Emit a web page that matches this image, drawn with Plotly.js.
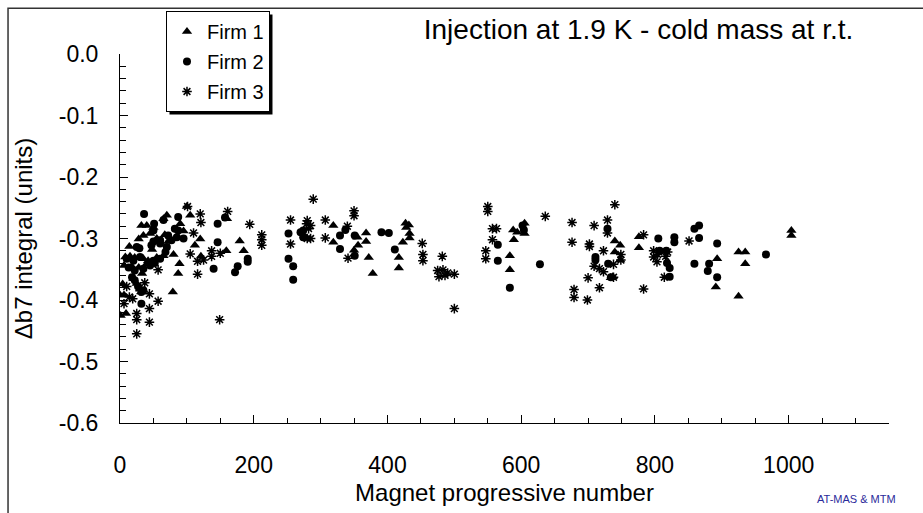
<!DOCTYPE html>
<html>
<head>
<meta charset="utf-8">
<script src="https://cdn.plot.ly/plotly-3.0.1.min.js"></script>
<style>html,body{margin:0;padding:0;background:#fff;}#chart{width:923px;height:513px;}</style>
</head>
<body>
<div id="chart"></div>
<script>
// Firm 1 (triangles)
const firm1X = [32,40,14,6,4,0,6,1,9,67,80,89,87,79,100,90,65,120,112,121,160,159,179,185,
  8,15,22,35,42,55,65,18,28,40,33,20,25,28,35,45,50,55,48,72,95,105,70,
  319,319,355,356,350,368,368,372,378,417,417,423,427,432,428,433,433,583,583,588,589,594,605,605,
  740,748,740,748,734,737,776,776,893,891,925,935,935,925,1004,1004];
const firm1Y = [-0.279,-0.279,-0.313,-0.344,-0.374,-0.392,-0.392,-0.425,-0.422,-0.294,-0.326,-0.341,-0.357,-0.387,-0.248,-0.276,-0.268,-0.301,-0.311,-0.329,-0.268,-0.320,-0.304,-0.320,
  -0.330,-0.329,-0.331,-0.333,-0.336,-0.331,-0.328,-0.346,-0.347,-0.341,-0.357,-0.365,-0.373,-0.301,-0.295,-0.292,-0.282,-0.300,-0.318,-0.305,-0.288,-0.262,-0.262,
  -0.279,-0.306,-0.298,-0.311,-0.319,-0.291,-0.305,-0.331,-0.357,-0.331,-0.348,-0.306,-0.275,-0.278,-0.282,-0.292,-0.299,-0.328,-0.351,-0.286,-0.302,-0.290,-0.275,-0.292,
  -0.304,-0.311,-0.322,-0.335,-0.364,-0.362,-0.297,-0.315,-0.333,-0.379,-0.322,-0.322,-0.341,-0.394,-0.287,-0.295];

// Firm 2 (circles)
const firm2X = [36,51,50,65,82,87,32,32,146,146,140,157,172,176,191,191,252,259,259,252,270,275,
  25,29,47,60,50,10,20,30,50,60,68,13,22,35,45,52,18,22,27,35,60,72,70,85,95,77,87,
  274,274,329,329,337,351,351,391,402,411,565,565,583,602,604,628,
  729,711,711,730,734,805,807,817,818,822,822,829,829,859,866,866,859,881,879,893,893,966];
const firm2Y = [-0.260,-0.276,-0.287,-0.270,-0.284,-0.265,-0.387,-0.406,-0.276,-0.306,-0.349,-0.266,-0.355,-0.345,-0.333,-0.338,-0.333,-0.345,-0.367,-0.292,-0.290,-0.298,
  -0.314,-0.316,-0.311,-0.308,-0.305,-0.333,-0.336,-0.330,-0.336,-0.333,-0.322,-0.347,-0.352,-0.349,-0.344,-0.340,-0.363,-0.368,-0.378,-0.384,-0.303,-0.295,-0.314,-0.298,-0.300,-0.303,-0.287,
  -0.287,-0.298,-0.295,-0.317,-0.286,-0.295,-0.328,-0.290,-0.291,-0.318,-0.310,-0.336,-0.380,-0.279,-0.286,-0.342,
  -0.284,-0.330,-0.335,-0.341,-0.363,-0.300,-0.320,-0.320,-0.340,-0.348,-0.362,-0.298,-0.306,-0.284,-0.279,-0.299,-0.341,-0.341,-0.353,-0.308,-0.363,-0.326];

// Firm 3 (asterisks)
const firm3X = [101,120,121,161,194,212,212,212,255,255,279,116,149,25,25,25,44,44,57,44,19,6,137,137,150,105,125,57,110,116,14,30,37,10,
  289,280,285,282,280,285,307,307,340,350,350,341,452,453,453,482,475,477,483,486,490,500,500,550,550,557,563,557,547,547,636,
  676,676,740,709,729,729,702,702,723,709,717,723,700,717,679,679,699,738,749,749,738,783,783,798,798,804,803,819,816,814,851];
const firm3Y = [-0.248,-0.260,-0.274,-0.256,-0.277,-0.294,-0.302,-0.311,-0.270,-0.309,-0.276,-0.358,-0.432,-0.455,-0.432,-0.422,-0.436,-0.414,-0.402,-0.390,-0.398,-0.406,-0.320,-0.329,-0.324,-0.325,-0.335,-0.351,-0.291,-0.337,-0.395,-0.385,-0.372,-0.378,
  -0.236,-0.271,-0.279,-0.284,-0.300,-0.300,-0.270,-0.299,-0.280,-0.255,-0.263,-0.332,-0.308,-0.326,-0.336,-0.329,-0.352,-0.362,-0.351,-0.360,-0.356,-0.358,-0.414,-0.248,-0.256,-0.284,-0.284,-0.302,-0.320,-0.333,-0.264,
  -0.274,-0.306,-0.245,-0.279,-0.270,-0.291,-0.309,-0.313,-0.320,-0.345,-0.349,-0.354,-0.364,-0.380,-0.383,-0.396,-0.400,-0.342,-0.326,-0.335,-0.363,-0.294,-0.382,-0.320,-0.330,-0.326,-0.338,-0.322,-0.329,-0.363,-0.304];

const seriesNames = ['Firm 1','Firm 2','Firm 3'];
const yTickVals = [0,-0.1,-0.2,-0.3,-0.4,-0.5,-0.6];
const yTickText = ['0.0','-0.1','-0.2','-0.3','-0.4','-0.5','-0.6'];
const xTickVals = [0,200,400,600,800,1000];
const xTickText = ['0','200','400','600','800','1000'];

const FONT = 'Liberation Sans, Arial, Helvetica, sans-serif';

const traces = [
  {x: firm1X, y: firm1Y, name: seriesNames[0], legendgroup: 'g1', type: 'scatter', mode: 'markers',
   marker: {symbol: 'triangle-up', size: 9, color: '#000'}},
  {x: firm2X, y: firm2Y, name: seriesNames[1], legendgroup: 'g2', type: 'scatter', mode: 'markers',
   marker: {symbol: 'circle', size: 8, color: '#000'}},
  {x: firm3X, y: firm3Y, name: seriesNames[2], legendgroup: 'g3', type: 'scatter', mode: 'markers',
   marker: {symbol: 'asterisk-open', size: 8, color: '#000', line: {color: '#000', width: 1.5}}}
];

const layout = {
  width: 923, height: 513,
  margin: {l: 120, r: 34, t: 53, b: 90, pad: 0},
  paper_bgcolor: '#fff', plot_bgcolor: '#fff',
  font: {family: FONT, color: '#000', size: 23},
  showlegend: true,
  title: {text: 'Injection at 1.9 K - cold mass at r.t.', font: {size: 28, family: FONT, color: '#000'},
          x: 0.6918, xanchor: 'center', y: 0.943, yanchor: 'middle'},
  xaxis: {
    range: [0, 1150], tickmode: 'array', tickvals: xTickVals, ticktext: xTickText,
    ticks: 'inside', ticklen: 8, tickwidth: 1, tickcolor: '#000',
    minor: {tickmode: 'linear', tick0: 0, dtick: 50, ticks: 'inside', ticklen: 5, tickwidth: 1, tickcolor: '#000', showgrid: false},
    showline: true, linecolor: '#000', linewidth: 1, showgrid: false, zeroline: false,
    tickfont: {size: 23, family: FONT}, ticklabelstandoff: 21,
    title: {text: 'Magnet progressive number', font: {size: 24, family: FONT}, standoff: 7},
    fixedrange: true
  },
  yaxis: {
    range: [-0.6, 0], tickmode: 'array', tickvals: yTickVals, ticktext: yTickText,
    ticks: 'inside', ticklen: 8, tickwidth: 1, tickcolor: '#000',
    minor: {tickmode: 'linear', tick0: 0, dtick: 0.02, ticks: 'inside', ticklen: 6, tickwidth: 1, tickcolor: '#000', showgrid: false},
    showline: true, linecolor: '#000', linewidth: 1, showgrid: false, zeroline: false,
    tickfont: {size: 23, family: FONT}, ticklabelstandoff: 16,
    title: {text: 'Δb7 integral (units)', font: {size: 24, family: FONT}, standoff: 19},
    fixedrange: true
  },
  legend: {
    x: 0.0598, y: 1.1135, xanchor: 'left', yanchor: 'top',
    bgcolor: '#fff', bordercolor: '#000', borderwidth: 1,
    font: {size: 20, family: FONT, color: '#000'},
    tracegroupgap: 1, itemwidth: 30, traceorder: 'grouped'
  },
  annotations: [
    {text: 'AT-MAS & MTM', xref: 'paper', yref: 'paper', x: 0.958, y: -0.2054,
     xanchor: 'center', yanchor: 'middle', showarrow: false,
     font: {size: 11, family: FONT, color: '#2a2a9a'}}
  ],
  shapes: [
    {type: 'rect', xref: 'paper', yref: 'paper', x0: -0.1456, x1: 1.3, y0: -0.5, y1: 1.1243,
     line: {color: '#333', width: 1.5}, fillcolor: 'rgba(0,0,0,0)', layer: 'below'}
  ]
};

Plotly.newPlot('chart', traces, layout, {displayModeBar: false, staticPlot: true}).then(function(gd){
  // drop shadow behind the legend box, sized from the rendered legend
  const bg = gd.querySelector('.legend .bg');
  if (!bg) return;
  const r = bg.getBoundingClientRect();
  const c = gd.getBoundingClientRect();
  const fs = gd._fullLayout._size;
  const toPX = px => (px - c.left - fs.l) / fs.w;
  const toPY = py => 1 - (py - c.top - fs.t) / fs.h;
  const shapes = layout.shapes.concat([{
    type: 'rect', xref: 'paper', yref: 'paper',
    x0: toPX(r.left + 3), x1: toPX(r.right + 3), y0: toPY(r.bottom + 3), y1: toPY(r.top + 3),
    line: {width: 0}, fillcolor: '#000', layer: 'above'
  }]);
  Plotly.relayout(gd, {shapes: shapes});
});
</script>
</body>
</html>
